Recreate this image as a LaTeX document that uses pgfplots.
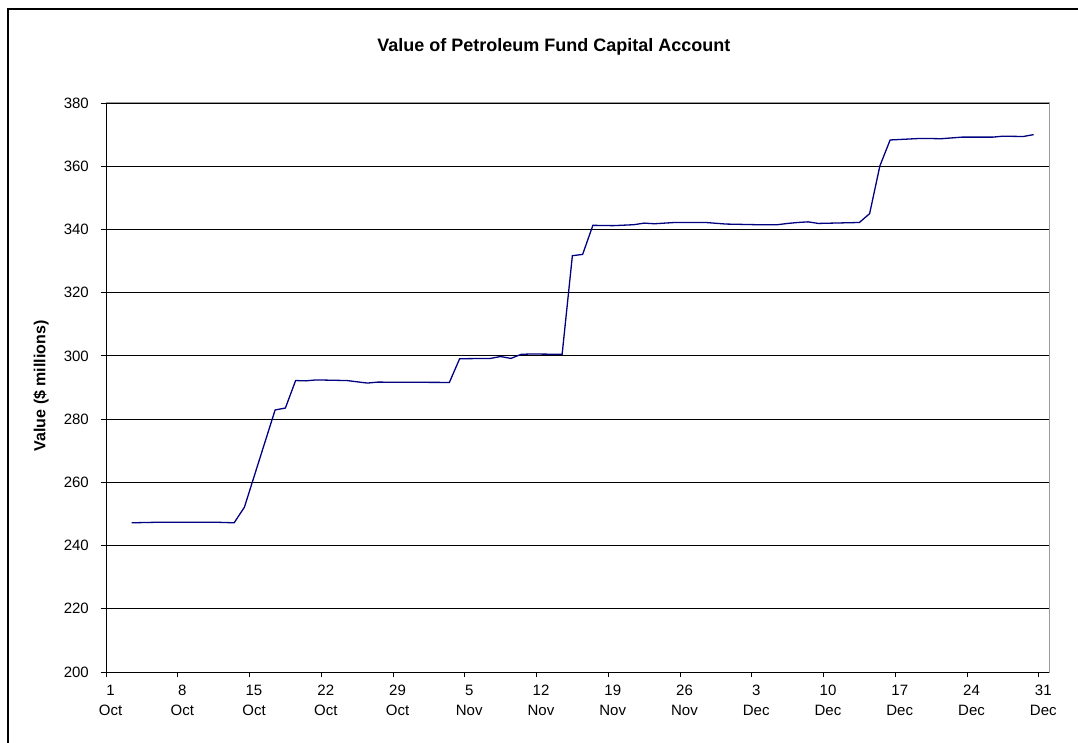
\documentclass[border=0pt]{standalone}
\usepackage{pgfplots}
\pgfplotsset{compat=1.18}
\usepackage{fontspec}
\setmainfont{Liberation Sans}
\definecolor{navyline}{RGB}{0,0,128}
\begin{document}
\begin{tikzpicture}[x=1pt,y=1pt]
\useasboundingbox (0,0) rectangle (1078,742);
\draw[black, line width=2.5pt] (8,-5) -- (8,733) -- (1085,733);
\begin{axis}[
  at={(106pt,70pt)}, anchor=south west,
  scale only axis, width=943pt, height=569pt,
  xmin=0, xmax=92, ymin=200, ymax=380,
  xtick={0,7,14,21,28,35,42,49,56,63,70,77,84,91},
  xticklabels={1\\Oct,8\\Oct,15\\Oct,22\\Oct,29\\Oct,5\\Nov,12\\Nov,19\\Nov,26\\Nov,3\\Dec,10\\Dec,17\\Dec,24\\Dec,31\\Dec},
  ytick={200,220,...,380},
  tick align=outside, major tick length=5pt,
  tick style={black, line width=0.8pt},
  xtick pos=bottom, ytick pos=left,
  ymajorgrids, grid style={black, line width=0.9pt},
  axis line style={draw=gray!80, line width=1pt},
  /pgf/number format/assume math mode=true,
  ticklabel style={font=\fontsize{15}{19.5}\selectfont},
  xticklabel style={align=center, anchor=north, inner sep=0pt, yshift=-8pt, xshift=4.5pt},
  yticklabel style={anchor=east, inner sep=0pt, xshift=-12pt},
  title={\fontsize{18}{20}\selectfont\bfseries Value of Petroleum Fund Capital Account},
  title style={at={(rel axis cs:0.475,1)}, anchor=base, yshift=45pt, inner sep=0pt},
  ylabel={\fontsize{16}{18}\selectfont\bfseries Value (\$ millions)},
  every axis y label/.style={at={(rel axis cs:0,0.503)}, rotate=90, anchor=center, yshift=65pt},
]
\draw[black, line width=1pt] (rel axis cs:0,0) -- (rel axis cs:0,1);
\draw[black, line width=1pt] (rel axis cs:0,0) -- (rel axis cs:1,0);
\addplot[navyline, line width=1.3pt, mark=none] coordinates {
(2.5,247.2) (5.5,247.4) (10.5,247.4) (12.5,247.2) (13.5,252.1)
(16.5,282.9) (17.5,283.5) (18.5,292.2) (19.5,292.1) (20.5,292.4)
(23.5,292.2) (25.5,291.4) (26.5,291.7) (33.5,291.6) (34.5,299.1)
(37.5,299.2) (38.5,299.8) (39.5,299.2) (40.5,300.5) (41.5,300.6)
(44.5,300.5) (45.5,331.7) (46.5,332.1) (47.5,341.3) (49.5,341.2)
(51.5,341.5) (52.5,342.0) (53.5,341.8) (55.5,342.2) (58.5,342.2)
(60.5,341.7) (63.5,341.5) (65.5,341.5) (66.5,341.9) (67.5,342.2)
(68.5,342.4) (69.5,341.9) (73.5,342.2) (74.5,345.0) (75.5,360.1)
(76.5,368.3) (79.5,368.8) (81.5,368.7) (83.5,369.2) (86.5,369.2)
(87.5,369.5) (89.5,369.4) (90.5,370.0)
};
\end{axis}
\end{tikzpicture}
\end{document}
